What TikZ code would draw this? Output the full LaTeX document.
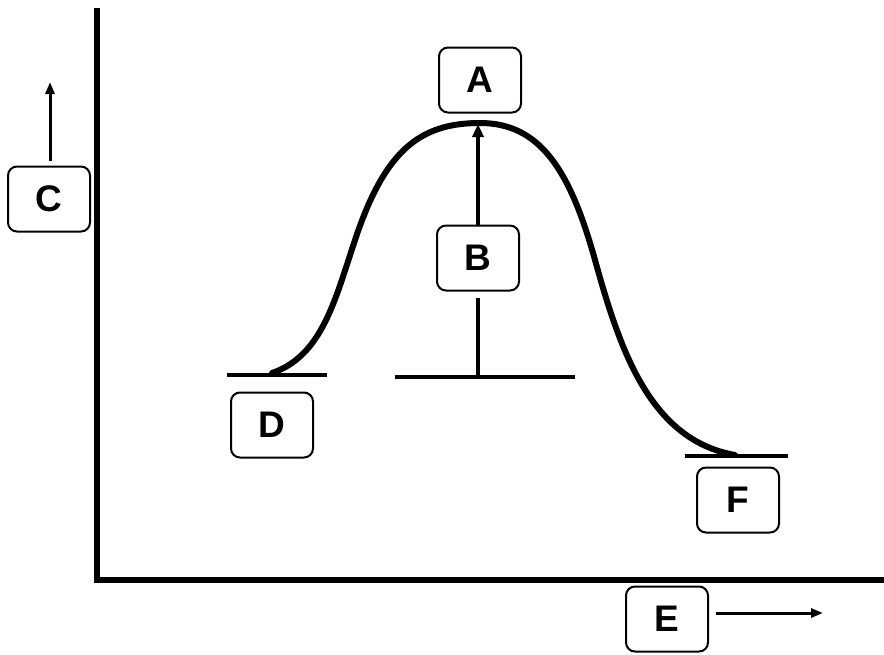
\documentclass[tikz,border=0pt]{standalone}
\usepackage{fontspec}
\setmainfont{Liberation Sans}
\usetikzlibrary{arrows.meta}
\begin{document}
\begin{tikzpicture}[x=1pt,y=-1pt,
  lbl/.style={draw,line width=2pt,rounded corners=9pt,minimum width=82pt,minimum height=65pt,
    inner sep=0pt,font=\fontsize{37}{40}\selectfont\bfseries},
  axis/.style={line width=5.5pt},
  level/.style={line width=4.5pt},
  curve/.style={line width=6pt,line cap=round},
  arr/.style={line width=3pt,-{Triangle[length=12pt,width=9pt]}}]
\useasboundingbox (0,0) rectangle (884,654);
% axes
\coordinate (ytop) at (97,8);
\coordinate (orig) at (97,580);
\coordinate (xend) at (884,580);
\draw[axis] (ytop) -- (orig) -- (xend);
% labels
\node[lbl] (A) at (480,80) {A};
\node[lbl] (B) at (478,258) {B};
\node[lbl] (C) at (49,199) {C};
\node[lbl] (D) at (272,425) {D};
\node[lbl] (E) at (667,619) {E};
\node[lbl] (F) at (738,500) {F};
% level lines
\coordinate (d1) at (227,375); \coordinate (d2) at (327,375);
\coordinate (m1) at (395,377); \coordinate (m2) at (575,377);
\coordinate (f1) at (685,456); \coordinate (f2) at (788,456);
\draw[level] (d1) -- (d2);
\draw[level] (m1) -- (m2);
\draw[level] (f1) -- (f2);
% curve
\coordinate (cs) at (272,373);
\coordinate (peak) at (480,123);
\coordinate (ce) at (735,455);
\draw[curve] (cs) .. controls (322,356) and (335,300) .. (355,240)
  .. controls (385,150) and (420,123) .. (peak)
  .. controls (540,123) and (570,170) .. (595,260)
  .. controls (620,350) and (650,440) .. (ce);
% B arrow
\coordinate (bbase) at (478,377);
\coordinate (btop) at (478,124);
\draw[line width=4.5pt] (bbase) -- ([yshift=-6pt]B.south);
\draw[line width=4.5pt,-{Triangle[length=13pt,width=11pt]}] (B.north) -- (btop);
% axis arrows
\coordinate (ctip) at (50,82);
\draw[arr] ([yshift=5pt]C.north) ++(1,0) -- (ctip);
\coordinate (etip) at (823,613);
\draw[arr] ([xshift=7pt]E.east) ++(0,-6) -- (etip);
\end{tikzpicture}
\end{document}
